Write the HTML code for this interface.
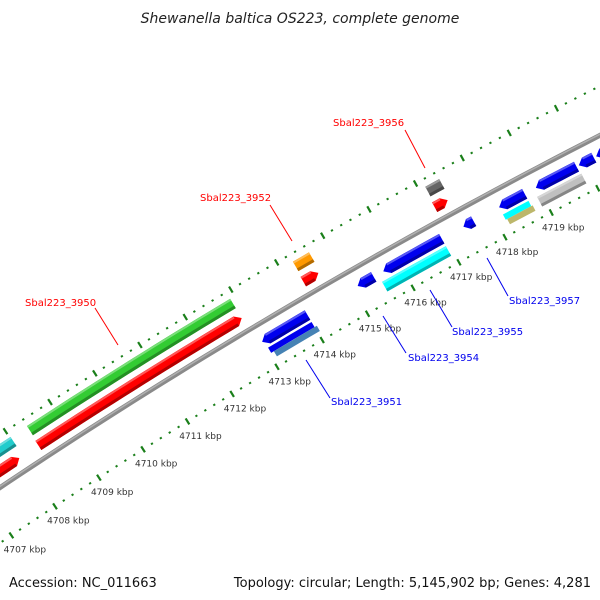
<!DOCTYPE html>
<html><head><meta charset="utf-8"><style>
html,body{margin:0;padding:0;background:#fff}
svg{display:block}
text{font-family:"DejaVu Sans","Liberation Sans",sans-serif}
</style></head><body>
<svg id="map" width="600" height="600" viewBox="0 0 600 600" xmlns="http://www.w3.org/2000/svg">
<rect width="600" height="600" fill="#fff"/>
<text x="300" y="23" text-anchor="middle" font-size="14" font-style="italic" fill="#222">Shewanella baltica OS223, complete genome</text>
<g id="plot"></g>
<text x="9" y="587" font-size="13" fill="#111">Accession: NC_011663</text>
<text x="591" y="587" text-anchor="end" font-size="13" fill="#111">Topology: circular; Length: 5,145,902 bp; Genes: 4,281</text>
</svg>
<script>
// feature data (kbp)
const featNames  = ["left-cyan","left-red","Sbal223_3950-a","Sbal223_3950","Sbal223_3952-a","Sbal223_3952","Sbal223_3956-a","Sbal223_3956","Sbal223_3951","Sbal223_3951-b","Sbal223_3951-c","gene-4715","gene-4716","Sbal223_3955","gene-4717","gene-4718","gene-4718-b","gene-4718-c","Sbal223_3957","Sbal223_3957-b","gene-4720","gene-4720-b"];
const featStart  = [4706.0,4706.0,4708.39,4708.37,4714.27,4714.25,4717.13,4717.10,4713.00,4713.04,4713.10,4715.10,4715.66,4715.54,4717.40,4718.17,4718.17,4718.20,4718.96,4718.90,4719.88,4720.25];
const featEnd    = [4708.02,4707.94,4712.90,4712.90,4714.62,4714.58,4717.43,4717.38,4714.00,4714.00,4714.05,4715.45,4716.93,4716.93,4717.62,4718.72,4718.72,4718.75,4719.83,4719.85,4720.20,4720.60];
const featRow    = ["F2","F1","F2","F1","F2","F1","F2","F1","R1","R2a","R2b","R1","R1","R2","R1","R1","R2a","R2b","R1","R2","R1","R1"];
const featDir    = [0,1,0,1,0,1,0,1,-1,0,0,-1,-1,0,-1,-1,0,0,-1,0,-1,-1];
const featColor  = ["#22cccc","#ff0000","#33cc33","#ff0000","#ff9900","#ff0000","#666666","#ff0000","#0000ee","#0000ee","#4682b4","#0000ee","#0000ee","#00ffff","#0000ee","#0000ee","#00ffff","#bdb76b","#0000ee","#c0c0c0","#0000ee","#0000ee"];
const tickLabels = [4707,4708,4709,4710,4711,4712,4713,4714,4715,4716,4717,4718,4719];
const calloutText = ["Sbal223_3950","Sbal223_3952","Sbal223_3956","Sbal223_3951","Sbal223_3954","Sbal223_3955","Sbal223_3957"];
const calloutColor= ["#ff0000","#ff0000","#ff0000","#0000ee","#0000ee","#0000ee","#0000ee"];

const NS="http://www.w3.org/2000/svg";
const plot=document.getElementById('plot');
const CX=3325, CY=5464, K0=4711, PHI0=-121.89, DEG=0.506;
const R_BACK=5985, R_OUT=6029, R_IN=5939;
const ROWS={F2:[6016,11],F1:[5999,11],R1:[5968,11],R2:[5954,11],R2a:[5957,6],R2b:[5951,6]};
function ang(k){return (PHI0+(k-K0)*DEG)*Math.PI/180;}
function pt(k,r){const a=ang(k);return [CX+r*Math.cos(a),CY+r*Math.sin(a)];}
function arcPts(k1,k2,r,n){const p=[];for(let i=0;i<=n;i++){p.push(pt(k1+(k2-k1)*i/n,r));}return p;}
function ps(a){return a.map(p=>p[0].toFixed(2)+","+p[1].toFixed(2)).join(" ");}
function mk(tag,attrs){const e=document.createElementNS(NS,tag);for(const k in attrs)e.setAttribute(k,attrs[k]);return e;}
function shade(c,f){const n=parseInt(c.slice(1),16);let r=n>>16,g=(n>>8)&255,b=n&255;
  if(f>0){r+= (255-r)*f;g+=(255-g)*f;b+=(255-b)*f;}else{r*=1+f;g*=1+f;b*=1+f;}
  return "rgb("+Math.round(r)+","+Math.round(g)+","+Math.round(b)+")";}

// backbone
const bb=mk('polyline',{points:ps(arcPts(4704,4723,R_BACK,60)),fill:'none',stroke:'#8a8a8a','stroke-width':5});


plot.appendChild(bb);
const bb2=mk('polyline',{points:ps(arcPts(4704,4723,R_BACK+1,60)),fill:'none',stroke:'#b0b0b0','stroke-width':1.5});


plot.appendChild(bb2);

// ticks
[R_OUT,R_IN].forEach((R,ri)=>{
  for(let i=0;i<=90;i++){
    const k=4705+i*0.2;
    const major=Math.abs(k-Math.round(k))<1e-6;
    const len=major?3.5:1;
    const a=pt(k,R-len),b=pt(k,R+len);
    const t=mk('line',{x1:a[0],y1:a[1],x2:b[0],y2:b[1],stroke:'#1a7f1a','stroke-width':2.2});
    
    
    plot.appendChild(t);
  }
});
tickLabels.forEach(k=>{
  const p=pt(k,R_IN-17);
  const t=mk('text',{x:p[0]+4,y:p[1]+3,'text-anchor':'middle','font-size':9,fill:'#333'});
  t.textContent=k+" kbp";
  
  
  plot.appendChild(t);
});

// features
featNames.forEach((nm,i)=>{
  const s=featStart[i],e=featEnd[i],[r,h]=ROWS[featRow[i]],d=featDir[i],col=featColor[i];
  const ro=r+h/2,rin=r-h/2;
  const ah=Math.min(0.12,(e-s)/2);
  const n=Math.max(2,Math.ceil((e-s)*4));
  let pts,bs=s,be=e;
  if(d>0){be=e-ah;pts=arcPts(s,be,ro,n).concat([pt(e,r)],arcPts(be,s,rin,n));}
  else if(d<0){bs=s+ah;pts=[pt(s,r)].concat(arcPts(bs,e,ro,n),arcPts(e,bs,rin,n));}
  else{pts=arcPts(s,e,ro,n).concat(arcPts(e,s,rin,n));}
  const g=mk('g',{});
  
  
  const body=mk('polygon',{points:ps(pts),fill:col});
  
  
  g.appendChild(body);
  if(h>8){
    const hi=mk('polyline',{points:ps(arcPts(bs,be,ro-1.2,n)),fill:'none',stroke:shade(col,0.35),'stroke-width':2});
    
    
    g.appendChild(hi);
    const lo=mk('polyline',{points:ps(arcPts(bs,be,rin+1.5,n)),fill:'none',stroke:shade(col,-0.3),'stroke-width':3});
    
    
    g.appendChild(lo);
  }
  plot.appendChild(g);
});

// callouts (label position, line endpoints in px)
const calloutTx=[25,200,333,331,408,452,509];
const calloutTy=[306,201,126,405,361,335,304];
const calloutL=[[95,308,118,345],[270,205,292,241],[405,130,425,168],[306,360,330,398],[383,316,406,353],[430,290,452,327],[487,258,508,296]];
calloutText.forEach((tx,i)=>{
  const L=calloutL[i];
  const ln=mk('line',{x1:L[0],y1:L[1],x2:L[2],y2:L[3],stroke:calloutColor[i],'stroke-width':1});
  
  
  plot.appendChild(ln);
  const t=mk('text',{x:calloutTx[i],y:calloutTy[i],'font-size':10,fill:calloutColor[i]});
  t.textContent=tx;
  
  
  plot.appendChild(t);
});
</script>
</body></html>
